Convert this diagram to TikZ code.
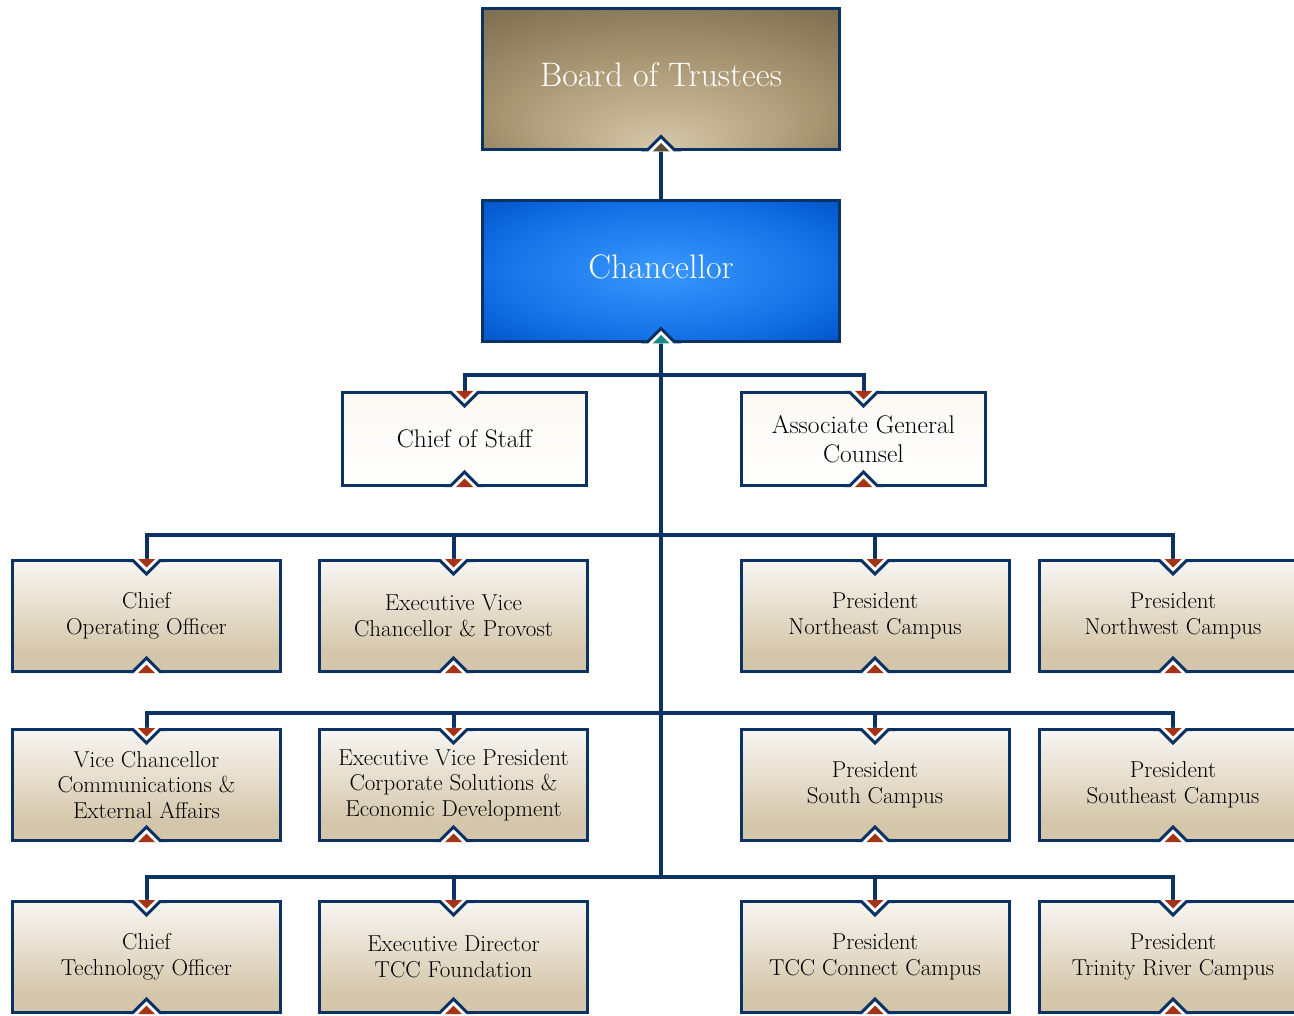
\documentclass[tikz,border=0pt]{standalone}
\usepackage{fontspec}
\usepackage{tikz}
\usetikzlibrary{positioning, calc}
\usetikzlibrary{backgrounds}
\definecolor{navy}{RGB}{11,50,99}
\definecolor{tipred}{RGB}{165,52,22}
\definecolor{tipbrown}{RGB}{92,78,56}
\definecolor{tipteal}{RGB}{22,136,140}
\definecolor{glowin}{RGB}{214,200,170}
\definecolor{glowmid}{RGB}{168,149,114}
\definecolor{glowout}{RGB}{128,113,82}
\definecolor{chanin}{RGB}{58,152,255}
\definecolor{chanout}{RGB}{18,112,228}
\definecolor{chanrim}{RGB}{4,88,206}
\definecolor{tanhi}{RGB}{248,246,242}
\definecolor{tanlo}{RGB}{212,198,170}
\definecolor{staffhi}{RGB}{251,248,243}
\pgfdeclareradialshading{boardglow}{\pgfpoint{0bp}{-25bp}}{color(0bp)=(glowin); color(22bp)=(glowmid); color(38bp)=(glowout); color(50bp)=(glowout)}
\pgfdeclareradialshading{changlow}{\pgfpoint{0bp}{0bp}}{color(0bp)=(chanin); color(24bp)=(chanout); color(34bp)=(chanrim); color(50bp)=(chanrim)}
\pgfdeclareverticalshading{tanfade}{100bp}{color(0bp)=(tanlo); color(33bp)=(tanlo); color(75bp)=(tanhi); color(100bp)=(tanhi)}
\tikzstyle{trustee} = [rectangle, minimum width=357pt, minimum height=141pt, inner sep=0pt, outer sep=0pt, line width=3pt, draw=navy, shade, shading=boardglow, text=white, text depth=10pt, font=\fontsize{34}{40}\selectfont]
\tikzstyle{chancel} = [trustee, shading=changlow]
\tikzstyle{staff} = [rectangle, minimum width=244pt, minimum height=93pt, inner sep=0pt, outer sep=0pt, line width=3pt, draw=navy, top color=staffhi, bottom color=white, align=center, font=\fontsize{25.5}{29}\selectfont]
\tikzstyle{office} = [rectangle, minimum width=268pt, minimum height=111pt, inner sep=0pt, outer sep=0pt, line width=3pt, draw=navy, shade, shading=tanfade, align=center, font=\fontsize{23}{25.5}\selectfont]
\tikzstyle{link} = [navy, line width=4pt]
\tikzstyle{notch} = [navy, line width=3pt]

\begin{document}
\begin{tikzpicture}[x=1pt, y=-1pt]
            \useasboundingbox (0,0) rectangle (1294,1016);
            \clip (0,0) rectangle (1294,1016);

            \node (board) [trustee] at (661,79.5) {Board of Trustees};
            \node (chan) [chancel, below=51pt of board] {Chancellor};
            \node (cos) [staff] at (464.5,439) {Chief of Staff};
            \node (agc) [staff, right=155pt of cos] {Associate General\\Counsel};

            \node (coo) [office] at (146.5,616) {Chief\\Operating Officer};
            \node (evcp) [office, right=39pt of coo] {Executive Vice\\Chancellor \& Provost};
            \node (pne) [office] at (875,616) {President\\Northeast Campus};
            \node (pnw) [office, right=30pt of pne] {President\\Northwest Campus};

            \node (vcc) [office, below=58pt of coo] {Vice Chancellor\\Communications \&\\External Affairs};
            \node (evpc) [office, below=58pt of evcp] {Executive Vice President\\Corporate Solutions \&\\Economic Development};
            \node (psc) [office, below=58pt of pne] {President\\South Campus};
            \node (pse) [office, below=58pt of pnw] {President\\Southeast Campus};

            \node (cto) [office, below=61pt of vcc] {Chief\\Technology Officer};
            \node (edf) [office, below=61pt of evpc] {Executive Director\\TCC Foundation};
            \node (pcc) [office, below=61pt of psc] {President\\TCC Connect Campus};
            \node (ptr) [office, below=61pt of pse] {President\\Trinity River Campus};

            \coordinate (bar0) at (661,375);
            \coordinate (bar1) at (661,535);
            \coordinate (bar2) at (661,713);
            \coordinate (bar3) at (661,877);

            \begin{scope}[on background layer]
                \draw [link] (chan.north) -- (board.south);
                \draw [link] (chan.south) -- (bar3);
                \draw [link] (cos.north) |- (bar0) -| (agc.north);
                \draw [link] (coo.north) |- (bar1) -| (pnw.north);
                \draw [link] (evcp.north) -- (evcp.north |- bar1);
                \draw [link] (pne.north) -- (pne.north |- bar1);
                \draw [link] (vcc.north) |- (bar2) -| (pse.north);
                \draw [link] (evpc.north) -- (evpc.north |- bar2);
                \draw [link] (psc.north) -- (psc.north |- bar2);
                \draw [link] (cto.north) |- (bar3) -| (ptr.north);
                \draw [link] (edf.north) -- (edf.north |- bar3);
                \draw [link] (pcc.north) -- (pcc.north |- bar3);
            \end{scope}

            % notches with tips, top side
            \foreach \n in {cos,agc,coo,evcp,pne,pnw,vcc,evpc,psc,pse,cto,edf,pcc,ptr} {
                \begin{scope}[shift={(\n.north)}]
                    \fill [white] (-15.1,-1.6) -- (15.1,-1.6) -- (0,13.5) -- cycle;
                    \draw [notch] (-20,0) -- (-13.5,0) -- (0,13.5) -- (13.5,0) -- (20,0);
                    \fill [tipred] (-8.5,-1.5) -- (8.5,-1.5) -- (0,7) -- cycle;
                \end{scope}
            }
            % notches with tips, bottom side
            \foreach \n/\c in {board/tipbrown,chan/tipteal,cos/tipred,agc/tipred,coo/tipred,evcp/tipred,pne/tipred,pnw/tipred,vcc/tipred,evpc/tipred,psc/tipred,pse/tipred,cto/tipred,edf/tipred,pcc/tipred,ptr/tipred} {
                \begin{scope}[shift={(\n.south)}]
                    \fill [white] (-15.1,1.6) -- (15.1,1.6) -- (0,-13.5) -- cycle;
                    \draw [notch] (-20,0) -- (-13.5,0) -- (0,-13.5) -- (13.5,0) -- (20,0);
                    \fill [\c] (-8.5,1.5) -- (8.5,1.5) -- (0,-7) -- cycle;
                \end{scope}
            }
        \end{tikzpicture}
\end{document}
